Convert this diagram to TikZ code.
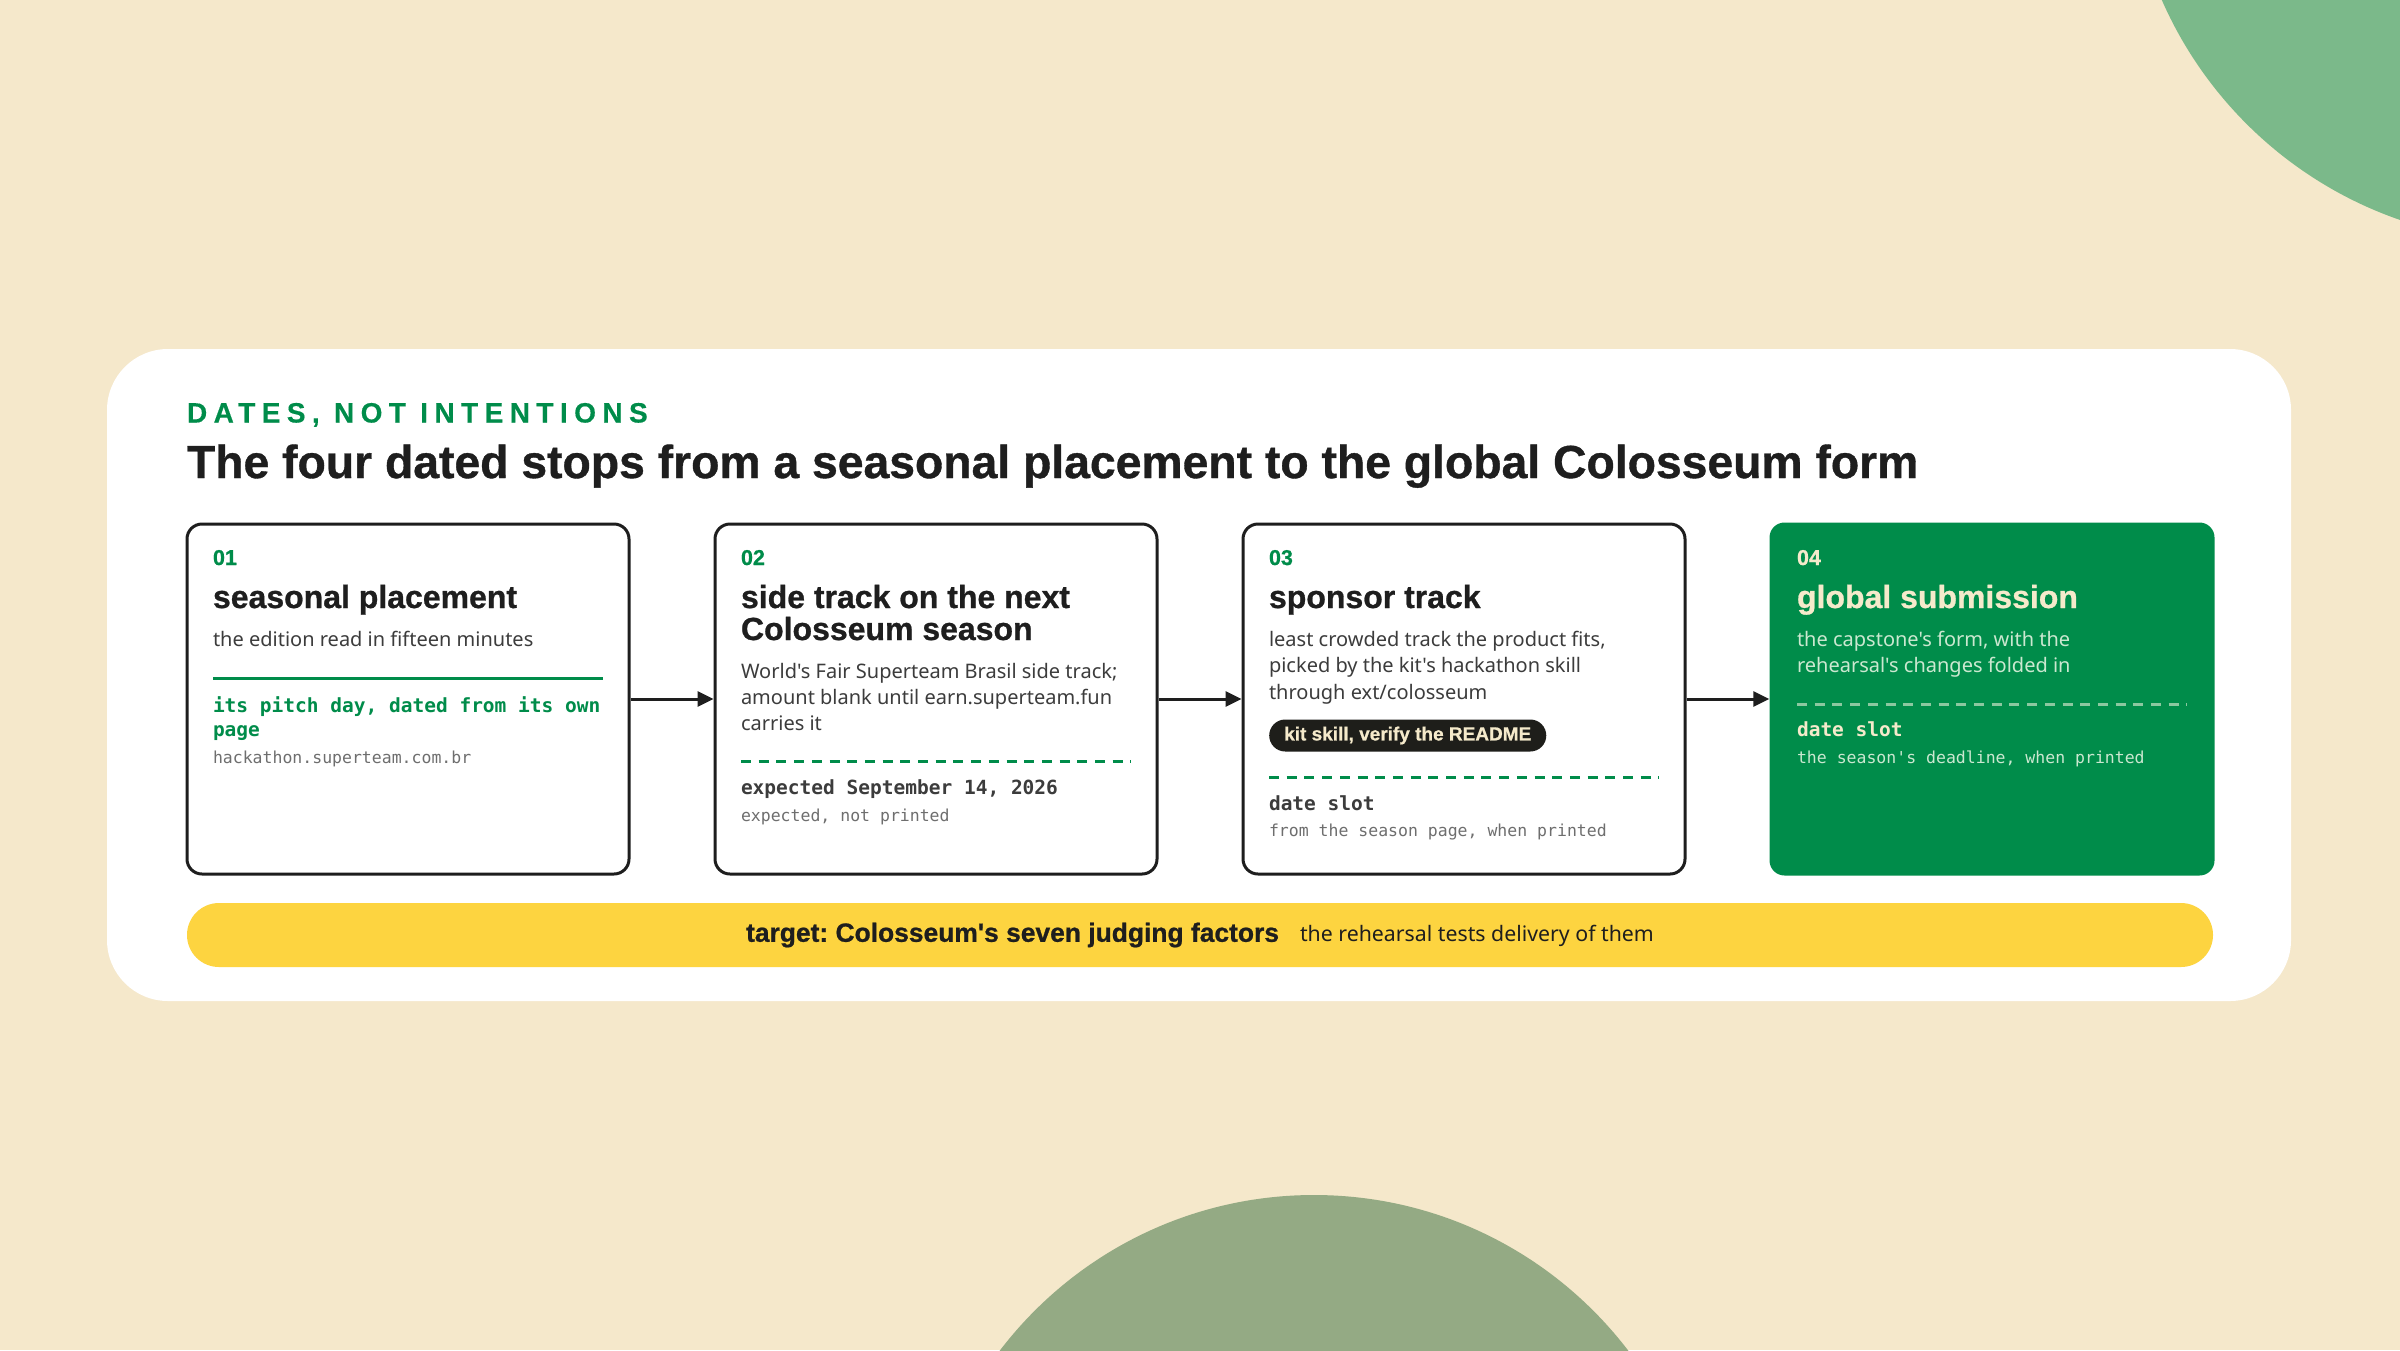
\documentclass[tikz,border=0pt]{standalone}
\usepackage{fontspec}
\usetikzlibrary{arrows.meta}
\setmainfont{Noto Sans}[Ligatures=TeXOff]
\setmonofont{DejaVu Sans Mono}
\newfontfamily\hfont{Liberation Sans Bold}[FakeBold=0.8, Ligatures=TeXOff]
\newfontfamily\kfont{Liberation Sans Bold}[LetterSpace=23, FakeBold=0.4]
\definecolor{bgcream}{HTML}{F5E8CB}
\definecolor{blobA}{HTML}{7BB98A}
\definecolor{blobB}{HTML}{94AA84}
\definecolor{dkgreen}{HTML}{008C4A}
\definecolor{ink}{HTML}{1E1E1E}
\definecolor{bodyc}{HTML}{3C3C3C}
\definecolor{grayc}{HTML}{6E6E6E}
\definecolor{barY}{HTML}{FDD440}
\definecolor{creamt}{HTML}{F5EACB}
\definecolor{paleg}{HTML}{CBE8D0}
\definecolor{paled}{HTML}{8CC8A0}
\definecolor{pillbg}{HTML}{1E1E1A}
\tikzset{
  card/.style={draw=ink, line width=3pt, fill=white, rounded corners=15pt, minimum width=442pt, minimum height=350pt, inner sep=0pt},
  gcard/.style={fill=dkgreen, rounded corners=15pt, minimum width=445pt, minimum height=353pt, inner sep=0pt},
  txt/.style={anchor=base west, inner sep=0pt, outer sep=0pt},
  numlbl/.style={txt, font=\hfont\fontsize{21.5}{22}\selectfont, text=dkgreen},
  ttl/.style={txt, font=\hfont\fontsize{32}{32}\selectfont, text=ink},
  body/.style={txt, font=\fontsize{20}{26}\selectfont, text=bodyc},
  monob/.style={txt, font=\ttfamily\bfseries\fontsize{19.5}{24.5}\selectfont, text=bodyc},
  monos/.style={txt, font=\ttfamily\fontsize{16.5}{20}\selectfont, text=grayc},
  solidrule/.style={draw=dkgreen, line width=3pt},
  dashrule/.style={draw=dkgreen, line width=3pt, dash pattern=on 10pt off 7.7pt},
  arr/.style={draw=ink, line width=3pt, -{Triangle[length=16pt,width=15pt]}},
}
\newcommand{\blk}[2]{\parbox[t]{#1}{\raggedright #2}}
\begin{document}
\frenchspacing
\begin{tikzpicture}[x=1pt,y=-1pt]
\useasboundingbox (0,0) rectangle (2400,1350);
\fill[bgcream] (0,0) rectangle (2400,1350);
\begin{scope}
\clip (0,0) rectangle (2400,1350);
\fill[blobA] (2532,-162) circle (404);
\fill[blobB] (1314,1590) circle (395);
\end{scope}
% white card
\fill[white, rounded corners=61pt] (107,349) rectangle (2291,1001);
% headings
\node[txt, font=\kfont\fontsize{28}{30}\selectfont, text=dkgreen] (kick) at (187,422.5) {DATES, NOT INTENTIONS};
\node[txt, font=\hfont\fontsize{46.3}{48}\selectfont, text=ink] (head) at (187,478) {The four dated stops from a seasonal placement to the global Colosseum form};
% cards
\node[card] (b1) at (408,699) {};
\node[card] (b2) at (936,699) {};
\node[card] (b3) at (1464,699) {};
\node[gcard] (b4) at (1992,699) {};
% arrows
\draw[arr] (b1.east) -- (b2.west);
\draw[arr] (b2.east) -- (b3.west);
\draw[arr] (b3.east) -- (b4.west);
% card 1
\node[numlbl] (n1) at (213,565) {01};
\node[ttl] (t1) at (213,608) {seasonal placement};
\node[body] (d1) at (213,646) {the edition read in fifteen minutes};
\coordinate (r1a) at (213,678); \coordinate (r1b) at (603,678);
\draw[solidrule] (r1a) -- (r1b);
\node[monob, text=dkgreen] (m1) at (213,712) {\blk{420pt}{its pitch day, dated from its own\\page}};
\node[monos] (s1) at (213,763) {hackathon.superteam.com.br};
% card 2
\node[numlbl] (n2) at (741,565) {02};
\node[ttl] (t2) at (741,608) {\blk{420pt}{\fontsize{32}{32}\selectfont side track on the next\\Colosseum season}};
\node[body] (d2) at (741,678) {\blk{420pt}{World's Fair Superteam Brasil side track;\\amount blank until earn.superteam.fun\\carries it}};
\coordinate (r2a) at (741,761); \coordinate (r2b) at (1131,761);
\draw[dashrule] (r2a) -- (r2b);
\node[monob] (m2) at (741,794.5) {expected September 14, 2026};
\node[monos] (s2) at (741,821) {expected, not printed};
% card 3
\node[numlbl] (n3) at (1269,565) {03};
\node[ttl] (t3) at (1269,608) {sponsor track};
\node[body] (d3) at (1269,646) {\blk{420pt}{\fontsize{20}{26.7}\selectfont least crowded track the product fits,\\picked by the kit's hackathon skill\\through ext/colosseum}};
\node[anchor=west, fill=pillbg, rounded corners=16pt, minimum height=32pt, inner xsep=15pt, inner ysep=0pt, text=creamt, font=\hfont\fontsize{19}{20}\selectfont] (pill) at (1269,735.5) {kit skill, verify the README};
\coordinate (r3a) at (1269,777.5); \coordinate (r3b) at (1659,777.5);
\draw[dashrule] (r3a) -- (r3b);
\node[monob] (m3) at (1269,810) {date slot};
\node[monos] (s3) at (1269,836.5) {from the season page, when printed};
% card 4
\node[numlbl, text=creamt] (n4) at (1797,565) {04};
\node[ttl, text=creamt] (t4) at (1797,608) {global submission};
\node[body, text=paleg] (d4) at (1797,646) {\blk{420pt}{the capstone's form, with the\\rehearsal's changes folded in}};
\coordinate (r4a) at (1797,704); \coordinate (r4b) at (2187,704);
\draw[dashrule, draw=paled] (r4a) -- (r4b);
\node[monob, text=creamt] (m4) at (1797,736.5) {date slot};
\node[monos, text=paleg] (s4) at (1797,763) {the season's deadline, when printed};
% target bar
\node[fill=barY, rounded corners=32pt, minimum width=2026pt, minimum height=64pt, inner sep=0pt] (bar) at (1200,935) {};
\node[anchor=center, inner sep=0pt] (bartxt) at (1200,935) {{\hfont\fontsize{26.4}{28}\selectfont\color{ink}target: Colosseum's seven judging factors}\hspace{21pt}{\fontsize{21.3}{24}\selectfont\color{ink}the rehearsal tests delivery of them}};
\end{tikzpicture}
\end{document}
